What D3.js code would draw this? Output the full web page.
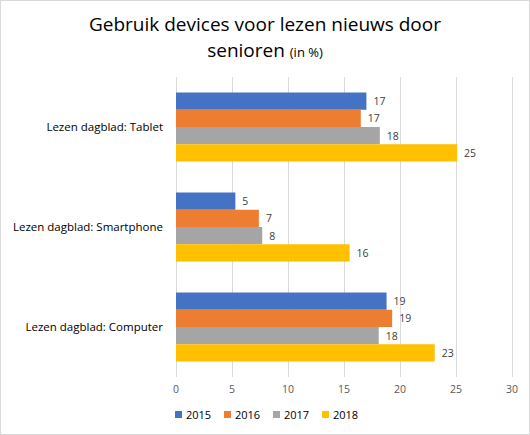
<!DOCTYPE html>
<html><head><meta charset="utf-8">
<script src="https://cdn.jsdelivr.net/npm/d3@7"></script>
<style>body{margin:0;background:#fff}svg{display:block}</style>
</head><body><svg id="c" width="530" height="435"></svg>
<script>
const categories = ["Lezen dagblad: Tablet", "Lezen dagblad: Smartphone", "Lezen dagblad: Computer"];
const years = ["2015", "2016", "2017", "2018"];
const values2015 = [17.0, 5.3, 18.8];
const values2016 = [16.5, 7.4, 19.3];
const values2017 = [18.2, 7.7, 18.1];
const values2018 = [25.1, 15.5, 23.1];
const xTicks = [0, 5, 10, 15, 20, 25, 30];
const colors = ["#4472C4", "#ED7D31", "#A5A5A5", "#FFC000"];
const series = [values2015, values2016, values2017, values2018];

const svg = d3.select("#c");
const font = "'Open Sans', 'Noto Sans', sans-serif";
svg.append("rect").attr("x",0.5).attr("y",0.5).attr("width",529).attr("height",434)
  .attr("fill","#fff").attr("stroke","#d9d9d9");

const x = d3.scaleLinear().domain([0,30]).range([176,512]);
const y = d3.scaleBand().domain(categories).range([77,377]).paddingInner(0.31).paddingOuter(0.155);
const yy = d3.scaleBand().domain(years).range([0, y.bandwidth()]);

// gridlines
svg.append("g").selectAll("line").data(xTicks).join("line")
  .attr("x1",d=>x(d)+0.5).attr("x2",d=>x(d)+0.5).attr("y1",77).attr("y2",377)
  .attr("stroke","#d9d9d9").attr("stroke-width",1);

// x tick labels
svg.append("g").selectAll("text").data(xTicks).join("text")
  .attr("x",d=>x(d)).attr("y",393).attr("text-anchor","middle")
  .attr("font-family",font).attr("font-size",10.5).attr("fill","#595959").text(d=>d);

// bars
const g = svg.append("g");
categories.forEach((c,ci)=>{
  years.forEach((yr,si)=>{
    const v = series[si][ci];
    g.append("rect").attr("x",x(0)).attr("y",y(c)+yy(yr))
      .attr("width",x(v)-x(0)).attr("height",yy.bandwidth())
      .attr("fill",colors[si]);
    g.append("text").attr("x",x(v)+7).attr("y",y(c)+yy(yr)+yy.bandwidth()/2+4)
      .attr("font-family",font).attr("font-size",10.5).attr("fill","#404040")
      .text(Math.round(v));
  });
});

// category labels
svg.append("g").selectAll("text").data(categories).join("text")
  .attr("x",163).attr("y",d=>y(d)+y.bandwidth()/2+4).attr("text-anchor","end")
  .attr("font-family",font).attr("font-size",11.5).attr("fill","#000").text(d=>d);

// title
svg.append("text").attr("x",265).attr("y",31).attr("text-anchor","middle")
  .attr("font-family",font).attr("font-size",19).attr("fill","#000")
  .text("Gebruik devices voor lezen nieuws door");
const t2 = svg.append("text").attr("x",265).attr("y",57).attr("text-anchor","middle")
  .attr("font-family",font).attr("fill","#000");
t2.append("tspan").attr("font-size",19).text("senioren ");
t2.append("tspan").attr("font-size",13).text("(in %)");

// legend
const legX = [175, 224, 273, 322];
const lg = svg.append("g");
years.forEach((yr,i)=>{
  lg.append("rect").attr("x",legX[i]).attr("y",411).attr("width",7).attr("height",7).attr("fill",colors[i]);
  lg.append("text").attr("x",legX[i]+11).attr("y",419).attr("font-family",font)
    .attr("font-size",11).attr("fill","#000").text(yr);
});
</script></body></html>
